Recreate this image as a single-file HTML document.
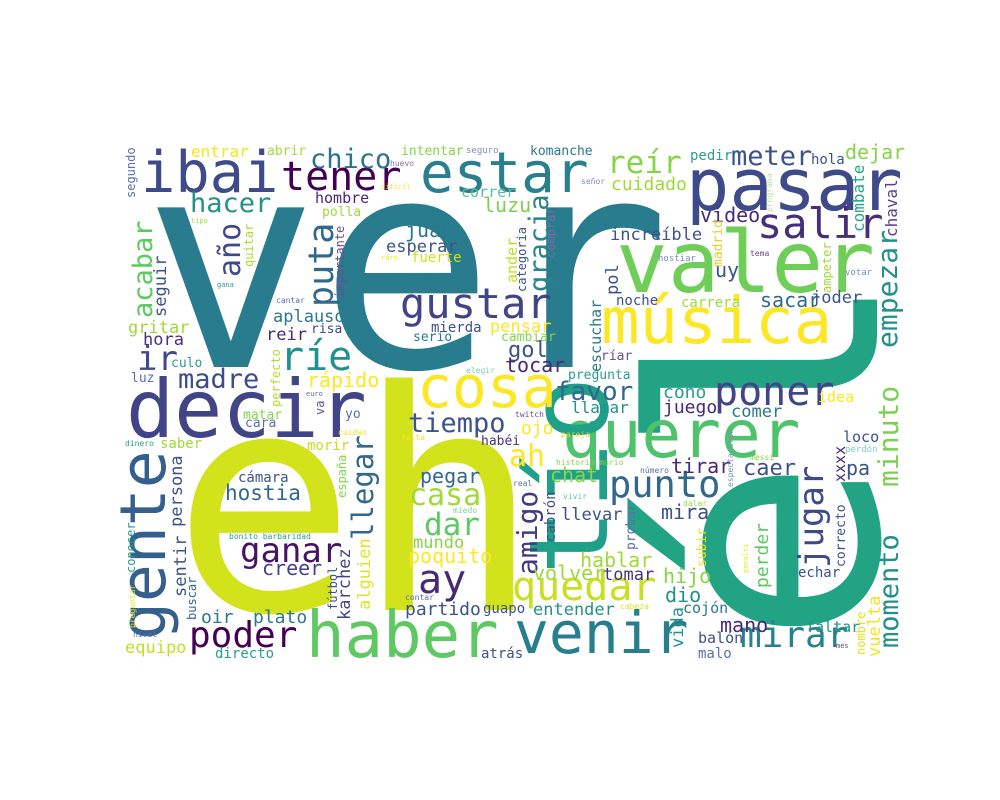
<!DOCTYPE html>
<html><head><meta charset="utf-8">
<style>
html,body{margin:0;padding:0;background:#fff;}
svg{display:block;}
text{font-family:"DejaVu Sans Mono","Liberation Mono",monospace;}
</style></head>
<body>
<svg id="cloud" width="1000" height="800" viewBox="0 0 1000 800" xmlns="http://www.w3.org/2000/svg">
<rect x="0" y="0" width="1000" height="800" fill="#ffffff"/>
<g id="words"></g>
</svg>
<script>
// word, x, baseline y, font size, colour, vertical
const words = [
["ver",143,367,292,"#287c8e",0],
["eh",172,610,306,"#d2e21b",0],
["él",877,645,312,"#22a384",1],
["decir",126,437,80,"#414487",0],
["valer",616,292,86,"#6ece58",0],
["pasar",686,210,72,"#3e4a89",0],
["música",601,343,64,"#fde725",0],
["querer",562,457,66,"#4ec36b",0],
["haber",306,657,64,"#5ec962",0],
["venir",514,653,58,"#277f8e",0],
["tío",607,575,110,"#1fa088",1],
["gente",165,640,63,"#355f8d",1],
["estar",420,192,56,"#2a7f8e",0],
["ibai",141,192,57,"#3e4a89",0],
["cosa",417,407,58,"#fde725",0],
["salir",757,238,42,"#472d7b",0],
["gustar",400,318,42,"#414487",0],
["quedar",512,600,40,"#c8e020",0],
["ríe",280,370,40,"#21918c",0],
["tener",281,190,40,"#440154",0],
["poner",714,405,40,"#414487",0],
["ay",418,593,40,"#482878",0],
["punto",609,497,37,"#31688e",0],
["mirar",740,647,36,"#25838e",0],
["poder",189,647,36,"#440154",0],
["puta",333,307,35,"#31688e",1],
["ganar",240,562,34,"#471365",0],
["ir",137,370,34,"#3e4a89",0],
["jugar",823,568,34,"#3e4a89",1],
["reír",607,173,31,"#86d549",0],
["dar",424,535,31,"#5ec962",0],
["casa",409,505,30,"#a0da39",0],
["ah",509,466,30,"#fde725",0],
["año",240,277,30,"#3e4a89",1],
["llegar",373,540,29,"#31688e",1],
["amigo",537,575,28,"#443983",1],
["empezar",897,348,28,"#21918c",1],
["minuto",898,487,28,"#7ad151",1],
["chico",310,168,27,"#2c728e",0],
["hacer",190,212,27,"#21918c",0],
["gracia",548,292,27,"#25848e",1],
["acabar",152,318,27,"#5ec962",1],
["madre",178,388,27,"#3e4a89",0],
["tiempo",408,432,27,"#3b528b",0],
["favor",555,400,26,"#31688e",0],
["meter",731,165,27,"#3b528b",0],
["momento",898,648,27,"#21918c",1],
["caer",743,475,22,"#3b528b",0],
["gol",508,357,22,"#3b528b",0],
["luzu",483,212,20,"#7ad151",0],
["juan",405,237,20,"#2a788e",0],
["tocar",505,372,20,"#482878",0],
["rápido",307,387,20,"#fde725",0],
["hostia",225,500,21,"#31688e",0],
["creer",262,575,20,"#414487",0],
["poquito",408,563,20,"#fde725",0],
["pegar",420,483,20,"#31688e",0],
["partido",405,615,18,"#3b528b",0],
["volver",533,580,20,"#a0da39",0],
["hablar",580,567,20,"#a0da39",0],
["chat",550,482,20,"#86d549",0],
["vídeo",700,222,20,"#472d7b",0],
["uy",715,277,20,"#3b528b",0],
["sacar",760,307,20,"#31688e",0],
["dejar",845,159,20,"#86d549",0],
["tirar",671,473,20,"#482878",0],
["mira",661,519,20,"#3b528b",0],
["hijo",663,583,20,"#86d549",0],
["dio",665,602,20,"#21918c",0],
["mano",720,632,20,"#482878",0],
["pa",846,475,20,"#3b528b",0],
["oir",201,623,18,"#2a788e",0],
["plato",253,623,18,"#2a788e",0],
["ojo",521,434,18,"#fde725",0],
["cuidado",611,190,18,"#a0da39",0],
["increíble",610,240,17,"#3b528b",0],
["coño",663,398,18,"#2a9d8f",0],
["juego",663,413,18,"#482878",0],
["perder",768,588,18,"#5ec962",1],
["esperar",386,252,17,"#3b528b",0],
["aplauso",273,322,17,"#2a788e",0],
["gritar",128,333,17,"#a0da39",0],
["hora",143,345,17,"#46327e",0],
["reir",266,340,17,"#482878",0],
["pensar",490,332,17,"#fde725",0],
["equipo",125,653,17,"#c2df23",0],
["mundo",413,548,17,"#86d549",0],
["entender",533,615,17,"#21918c",0],
["tomar",603,580,17,"#46327e",0],
["llevar",561,520,17,"#3b528b",0],
["comer",731,417,17,"#2a788e",0],
["joder",811,303,17,"#3b528b",0],
["llamar",571,413,16,"#21918c",0],
["seguir",166,317,17,"#3b528b",1],
["persona",182,527,17,"#3b528b",1],
["sentir",186,597,17,"#3b528b",1],
["karchez",350,620,17,"#404688",1],
["alguien",370,610,17,"#e0e321",1],
["vida",683,648,17,"#21918c",1],
["vuelta",880,657,17,"#f0e51f",1],
["pol",618,295,17,"#3b528b",1],
["combate",864,232,16,"#21a685",1],
["chaval",897,237,16,"#5c3d8f",1],
["entrar",191,157,16,"#f5e61f",0],
["ander",517,283,15,"#c2df23",1],
["escuchar",601,372,15,"#2a788e",1],
["hombre",315,203,15,"#482878",0],
["correr",461,197,15,"#52c0a0",0],
["loco",843,442,15,"#3b528b",0],
["xxxx",845,482,15,"#482878",1],
["idea",818,402,15,"#fde725",0],
["cojón",683,613,15,"#2a788e",0],
["faltar",806,632,15,"#21918c",0],
["balón",698,643,15,"#3b528b",0],
["fuerte",411,262,14,"#d2e21b",0],
["mierda",431,332,14,"#3b528b",0],
["cámara",238,482,14,"#3b528b",0],
["saber",160,448,14,"#a0da39",0],
["morir",307,450,14,"#c2df23",0],
["directo",215,658,14,"#2a9d8f",0],
["guapo",483,613,14,"#3b528b",0],
["atrás",481,658,14,"#3b528b",0],
["pedir",690,160,14,"#2a9d8f",0],
["hola",811,164,14,"#3b528b",0],
["noche",616,305,14,"#3b528b",0],
["carrera",681,307,14,"#a0da39",0],
["echar",798,577,14,"#3b528b",0],
["malo",698,658,14,"#5a6fb0",0],
["cabrón",555,542,14,"#3b528b",1],
["abrir",267,155,13,"#a0da39",0],
["intentar",401,155,13,"#86d549",0],
["komanche",530,155,13,"#2a788e",0],
["polla",322,216,13,"#a0da39",0],
["risa",311,333,13,"#3e4a89",0],
["serio",413,341,13,"#2a788e",0],
["cambiar",501,341,13,"#86d549",0],
["culo",171,367,13,"#2a9d8f",0],
["luz",131,382,13,"#5a6fb0",0],
["pregunta",568,379,13,"#2a9d8f",0],
["yo",345,418,13,"#5a6fb0",0],
["matar",243,419,13,"#86d549",0],
["cara",245,427,13,"#5a6fb0",0],
["habéi",481,445,13,"#46327e",0],
["ríar",601,360,13,"#6a4c93",0],
["segundo",135,198,12,"#5a6fb0",1],
["categoria",526,292,12,"#3b528b",1],
["comprar",555,258,12,"#7c6aa0",1],
["importante",344,298,12,"#6a4c93",1],
["quitar",253,267,12,"#a8db34",1],
["perfecto",280,407,12,"#b5de2b",1],
["va",324,415,12,"#6a4c93",1],
["conocer",135,573,12,"#2a9d8f",1],
["buscar",196,620,12,"#31688e",1],
["españa",346,498,12,"#86d549",1],
["fútbol",337,610,12,"#3b528b",1],
["madrid",722,267,13,"#e0d030",1],
["ampeter",831,293,12,"#a0da39",1],
["probar",635,550,13,"#5a6fb0",1],
["subir",706,567,13,"#f0e51f",1],
["correcto",845,567,13,"#3b528b",1],
["nombre",865,655,12,"#e0e321",1],
["seguro",466,153,9,"#7a8fc0",0],
["huevo",390,166,8,"#8c6fb0",0],
["difícil",381,189,7,"#f0e51f",0],
["tipo",191,223,7,"#a0da39",0],
["raro",381,260,7,"#f0e51f",0],
["gana",217,287,7,"#2a9d8f",0],
["cantar",276,303,8,"#5a6fb0",0],
["elegir",466,373,8,"#7ad1a0",0],
["euro",306,396,7,"#5a6fb0",0],
["twitch",515,417,8,"#6a4c93",0],
["cuidao",338,435,8,"#f0e51f",0],
["falta",401,440,8,"#f0e51f",0],
["pareja",561,437,8,"#e0d030",0],
["dinero",125,446,8,"#2a9d8f",0],
["historia mario",556,465,8,"#86d549",0],
["real",513,486,8,"#5a6fb0",0],
["vivir",563,499,8,"#5ec9a0",0],
["miedo",453,513,8,"#7ad1a0",0],
["bonito barbaridad",229,539,8,"#2a9d8f",0],
["contar",405,600,8,"#5a6fb0",0],
["nivel",133,637,8,"#5a6fb0",0],
["preguntar",135,628,8,"#e0e321",1],
["señor",581,184,8,"#7a8fc0",0],
["hostiar",658,261,9,"#7a8fc0",0],
["tema",750,256,8,"#6a4c93",0],
["votar",845,275,9,"#7a8fc0",0],
["programa",772,212,8,"#c2e0a0",1],
["perdón",845,452,9,"#7ad1c0",0],
["messi",750,460,8,"#86d549",0],
["número",640,473,8,"#5a6fb0",0],
["espectacular",733,487,8,"#7a8fc0",1],
["dalar",683,506,8,"#a0da39",0],
["penalti",748,573,7,"#f0e51f",1],
["cabeza",620,609,8,"#e0e321",0],
["mes",836,648,7,"#6a4c93",0]
];
const g = document.getElementById('words');
const NS = 'http://www.w3.org/2000/svg';
words.forEach(function(w){
  const t = document.createElementNS(NS,'text');
  t.textContent = w[0];
  t.setAttribute('font-size', w[3]);
  t.setAttribute('fill', w[4]);
  if (w[5]) {
    t.setAttribute('transform','translate('+w[1]+','+w[2]+') rotate(-90)');
  } else {
    t.setAttribute('x', w[1]);
    t.setAttribute('y', w[2]);
  }
  
  
  g.appendChild(t);
});
</script>
</body></html>
